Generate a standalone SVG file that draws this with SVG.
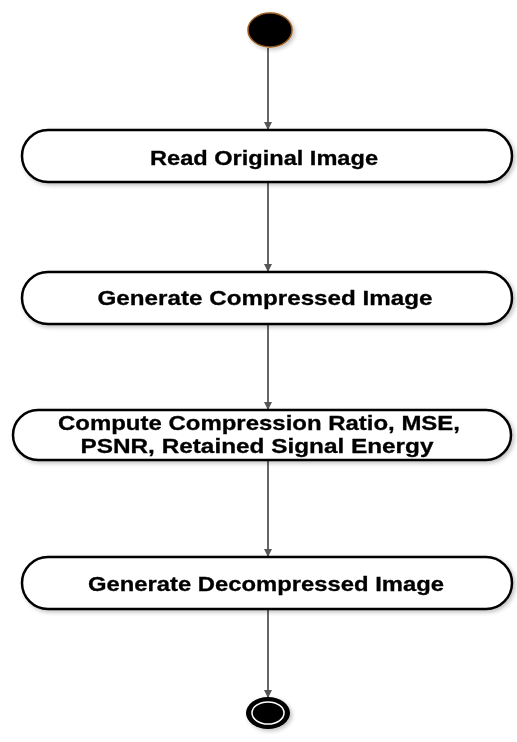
<svg xmlns="http://www.w3.org/2000/svg" width="517" height="742" viewBox="0 0 517 742">
  <defs>
    <marker id="arrow" markerWidth="8" markerHeight="8" refX="7" refY="4" orient="auto" markerUnits="userSpaceOnUse">
      <path d="M0,0 L8,4 L0,8 Z" fill="#555"/>
    </marker>
    <filter id="soft" x="-20%" y="-30%" width="140%" height="160%">
      <feGaussianBlur in="SourceAlpha" stdDeviation="2"/>
      <feOffset dx="2" dy="2"/>
      <feComponentTransfer><feFuncA type="linear" slope="0.25"/></feComponentTransfer>
      <feMerge><feMergeNode/><feMergeNode in="SourceGraphic"/></feMerge>
    </filter>
  </defs>
  <style>
    .box { fill: #fff; stroke: #000; stroke-width: 2.5; }
    .label { font-family: "Liberation Sans", Arial, sans-serif; font-weight: bold; font-size: 21px; fill: #000; text-anchor: middle; stroke: #000; stroke-width: 0.3; }
    .conn { stroke: #666; stroke-width: 2; fill: none; marker-end: url(#arrow); }
  </style>
  <rect width="517" height="742" fill="#fff"/>

  <g id="connectors">
    <line class="conn" x1="268" y1="48" x2="268" y2="129"/>
    <line class="conn" x1="268" y1="183" x2="268" y2="271"/>
    <line class="conn" x1="268" y1="325" x2="268" y2="409"/>
    <line class="conn" x1="268" y1="461" x2="268" y2="556"/>
    <line class="conn" x1="268" y1="610" x2="268" y2="697"/>
  </g>

  <g id="start" filter="url(#soft)">
    <ellipse cx="270" cy="30" rx="22" ry="17" fill="#000" stroke="#9a5a1a" stroke-width="1.5"/>
  </g>

  <g id="read-original" filter="url(#soft)">
    <rect class="box" x="22" y="130" width="490" height="52" rx="26" ry="26"/>
    <text class="label" x="264" y="165" textLength="228" lengthAdjust="spacingAndGlyphs">Read Original Image</text>
  </g>

  <g id="generate-compressed" filter="url(#soft)">
    <rect class="box" x="22" y="272" width="490" height="52" rx="26" ry="26"/>
    <text class="label" x="265" y="305" textLength="335" lengthAdjust="spacingAndGlyphs">Generate Compressed Image</text>
  </g>

  <g id="compute-metrics" filter="url(#soft)">
    <rect class="box" x="13" y="410" width="498" height="50" rx="25" ry="25"/>
    <text class="label" x="259" y="430" textLength="402" lengthAdjust="spacingAndGlyphs">Compute Compression Ratio, MSE,</text>
    <text class="label" x="257" y="453" textLength="353" lengthAdjust="spacingAndGlyphs">PSNR, Retained Signal Energy</text>
  </g>

  <g id="generate-decompressed" filter="url(#soft)">
    <rect class="box" x="22" y="557" width="490" height="52" rx="26" ry="26"/>
    <text class="label" x="266" y="591" textLength="356" lengthAdjust="spacingAndGlyphs">Generate Decompressed Image</text>
  </g>

  <g id="end" filter="url(#soft)">
    <ellipse cx="268" cy="713" rx="22" ry="16" fill="#000"/>
    <ellipse cx="268" cy="713" rx="16" ry="11" fill="none" stroke="#fff" stroke-width="1.5"/>
  </g>
</svg>
